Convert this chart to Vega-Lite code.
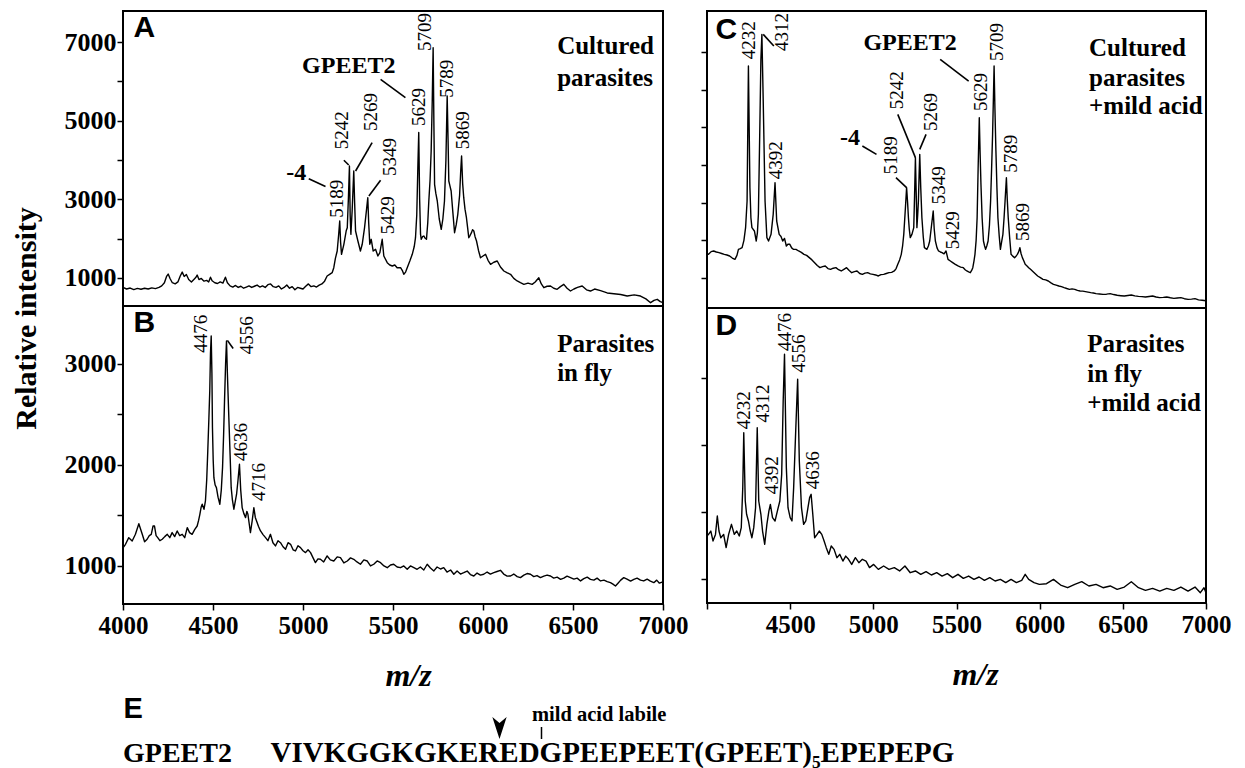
{
  "$schema": "https://vega.github.io/schema/vega-lite/v6.json",
  "padding": {"left": 10, "top": 10, "right": 0, "bottom": 0},
  "background": "white",
  "config": {
    "view": {"stroke": "black", "strokeWidth": 2},
    "axis": {"labelFont": "Liberation Serif", "labelFontWeight": "bold", "labelColor": "black", "tickColor": "black", "domain": false, "grid": false, "tickWidth": 1.5, "tickSize": 6, "titleFont": "Liberation Serif", "titleColor": "black", "labelFlush": false, "labelOverlap": false}
  },
  "datasets": {
    "A": [
      {"x":4000,"y":760},{"x":4020,"y":720},{"x":4040,"y":745},{"x":4060,"y":705},{"x":4080,"y":735},{"x":4100,"y":715},{"x":4120,"y":740},{"x":4140,"y":720},{"x":4160,"y":750},{"x":4180,"y":730},{"x":4200,"y":760},{"x":4215,"y":800},{"x":4230,"y":880},{"x":4242,"y":1040},{"x":4251,"y":1100},{"x":4262,"y":980},{"x":4274,"y":880},{"x":4290,"y":850},{"x":4305,"y":900},{"x":4318,"y":1050},{"x":4329,"y":1150},{"x":4340,"y":1040},{"x":4352,"y":1090},{"x":4365,"y":960},{"x":4380,"y":900},{"x":4395,"y":970},{"x":4404,"y":1010},{"x":4412,"y":1075},{"x":4422,"y":960},{"x":4435,"y":990},{"x":4450,"y":920},{"x":4465,"y":940},{"x":4476,"y":900},{"x":4486,"y":1020},{"x":4495,"y":930},{"x":4510,"y":880},{"x":4525,"y":860},{"x":4540,"y":900},{"x":4555,"y":870},{"x":4569,"y":1020},{"x":4580,"y":880},{"x":4595,"y":800},{"x":4610,"y":770},{"x":4625,"y":810},{"x":4640,"y":760},{"x":4655,"y":790},{"x":4670,"y":740},{"x":4685,"y":770},{"x":4700,"y":800},{"x":4715,"y":760},{"x":4730,"y":790},{"x":4745,"y":820},{"x":4760,"y":770},{"x":4775,"y":800},{"x":4790,"y":760},{"x":4805,"y":830},{"x":4820,"y":850},{"x":4835,"y":780},{"x":4850,"y":760},{"x":4865,"y":800},{"x":4880,"y":720},{"x":4895,"y":760},{"x":4910,"y":820},{"x":4925,"y":740},{"x":4940,"y":780},{"x":4955,"y":700},{"x":4970,"y":760},{"x":4985,"y":740},{"x":5000,"y":720},{"x":5015,"y":790},{"x":5030,"y":850},{"x":5045,"y":780},{"x":5060,"y":800},{"x":5075,"y":770},{"x":5090,"y":820},{"x":5105,"y":850},{"x":5120,"y":920},{"x":5134,"y":1050},{"x":5150,"y":1100},{"x":5162,"y":1135},{"x":5171,"y":1262},{"x":5180,"y":1500},{"x":5190,"y":1686},{"x":5198,"y":2100},{"x":5204,"y":2449},{"x":5209,"y":1900},{"x":5214,"y":1602},{"x":5227,"y":1857},{"x":5240,"y":2200},{"x":5246,"y":2280},{"x":5252,"y":3000},{"x":5258,"y":3848},{"x":5262,"y":2600},{"x":5266,"y":2110},{"x":5273,"y":2704},{"x":5282,"y":3720},{"x":5287,"y":2900},{"x":5292,"y":2195},{"x":5305,"y":1941},{"x":5319,"y":1686},{"x":5329,"y":1857},{"x":5342,"y":2280},{"x":5352,"y":2700},{"x":5360,"y":3042},{"x":5365,"y":2400},{"x":5371,"y":1857},{"x":5379,"y":1984},{"x":5390,"y":1686},{"x":5403,"y":1729},{"x":5416,"y":1559},{"x":5427,"y":1644},{"x":5440,"y":1984},{"x":5449,"y":1559},{"x":5468,"y":1390},{"x":5482,"y":1330},{"x":5496,"y":1305},{"x":5510,"y":1330},{"x":5523,"y":1262},{"x":5542,"y":1262},{"x":5553,"y":1180},{"x":5560,"y":1094},{"x":5570,"y":1150},{"x":5579,"y":1262},{"x":5595,"y":1450},{"x":5607,"y":1602},{"x":5618,"y":1800},{"x":5625,"y":2025},{"x":5632,"y":2600},{"x":5638,"y":3800},{"x":5643,"y":4700},{"x":5648,"y":3000},{"x":5653,"y":2110},{"x":5657,"y":1984},{"x":5664,"y":2050},{"x":5671,"y":2068},{"x":5679,"y":2010},{"x":5686,"y":1984},{"x":5693,"y":2400},{"x":5699,"y":2958},{"x":5706,"y":3500},{"x":5712,"y":4229},{"x":5718,"y":5500},{"x":5723,"y":6856},{"x":5727,"y":5000},{"x":5731,"y":3382},{"x":5738,"y":3150},{"x":5746,"y":2958},{"x":5757,"y":2500},{"x":5768,"y":2238},{"x":5777,"y":2500},{"x":5786,"y":2958},{"x":5794,"y":4000},{"x":5801,"y":5627},{"x":5806,"y":4500},{"x":5810,"y":3466},{"x":5816,"y":3350},{"x":5823,"y":3212},{"x":5832,"y":2700},{"x":5842,"y":2152},{"x":5851,"y":2350},{"x":5860,"y":2620},{"x":5870,"y":3100},{"x":5876,"y":3700},{"x":5881,"y":4102},{"x":5887,"y":3400},{"x":5893,"y":3042},{"x":5900,"y":2750},{"x":5908,"y":2533},{"x":5914,"y":2300},{"x":5921,"y":2025},{"x":5928,"y":2080},{"x":5936,"y":2152},{"x":5942,"y":2230},{"x":5949,"y":2195},{"x":5956,"y":2050},{"x":5964,"y":1941},{"x":5975,"y":1700},{"x":5986,"y":1516},{"x":6000,"y":1560},{"x":6014,"y":1602},{"x":6028,"y":1450},{"x":6042,"y":1348},{"x":6060,"y":1400},{"x":6079,"y":1432},{"x":6097,"y":1280},{"x":6116,"y":1178},{"x":6135,"y":1130},{"x":6153,"y":1094},{"x":6171,"y":990},{"x":6190,"y":924},{"x":6208,"y":880},{"x":6227,"y":839},{"x":6250,"y":870},{"x":6273,"y":839},{"x":6290,"y":900},{"x":6310,"y":1008},{"x":6324,"y":850},{"x":6338,"y":753},{"x":6356,"y":790},{"x":6375,"y":797},{"x":6393,"y":740},{"x":6412,"y":712},{"x":6430,"y":780},{"x":6449,"y":839},{"x":6467,"y":740},{"x":6486,"y":669},{"x":6505,"y":720},{"x":6525,"y":760},{"x":6551,"y":797},{"x":6575,"y":700},{"x":6597,"y":669},{"x":6620,"y":720},{"x":6653,"y":680},{"x":6690,"y":620},{"x":6727,"y":601},{"x":6765,"y":580},{"x":6801,"y":542},{"x":6840,"y":570},{"x":6875,"y":542},{"x":6905,"y":470},{"x":6931,"y":372},{"x":6950,"y":430},{"x":6968,"y":458},{"x":6985,"y":400},{"x":7000,"y":372}
    ],
    "B": [
      {"x":4000,"y":1180},{"x":4014,"y":1214},{"x":4032,"y":1280},{"x":4051,"y":1247},{"x":4069,"y":1313},{"x":4088,"y":1418},{"x":4107,"y":1313},{"x":4120,"y":1240},{"x":4134,"y":1264},{"x":4146,"y":1300},{"x":4157,"y":1313},{"x":4167,"y":1395},{"x":4175,"y":1395},{"x":4184,"y":1300},{"x":4193,"y":1280},{"x":4205,"y":1250},{"x":4218,"y":1264},{"x":4232,"y":1290},{"x":4246,"y":1313},{"x":4260,"y":1280},{"x":4273,"y":1330},{"x":4287,"y":1290},{"x":4301,"y":1346},{"x":4315,"y":1300},{"x":4329,"y":1313},{"x":4343,"y":1280},{"x":4357,"y":1379},{"x":4370,"y":1330},{"x":4384,"y":1313},{"x":4398,"y":1360},{"x":4412,"y":1395},{"x":4420,"y":1450},{"x":4427,"y":1511},{"x":4434,"y":1580},{"x":4440,"y":1610},{"x":4450,"y":1560},{"x":4458,"y":1643},{"x":4465,"y":1850},{"x":4471,"y":2137},{"x":4477,"y":2450},{"x":4482,"y":2730},{"x":4486,"y":3100},{"x":4490,"y":3274},{"x":4494,"y":2900},{"x":4497,"y":2367},{"x":4501,"y":2050},{"x":4505,"y":1873},{"x":4512,"y":1800},{"x":4519,"y":1774},{"x":4528,"y":1680},{"x":4538,"y":1610},{"x":4546,"y":1750},{"x":4553,"y":1972},{"x":4559,"y":2300},{"x":4564,"y":2631},{"x":4570,"y":3000},{"x":4575,"y":3224},{"x":4580,"y":2900},{"x":4588,"y":2466},{"x":4595,"y":2100},{"x":4601,"y":1774},{"x":4608,"y":1650},{"x":4616,"y":1561},{"x":4624,"y":1640},{"x":4631,"y":1709},{"x":4639,"y":1850},{"x":4647,"y":2005},{"x":4654,"y":1750},{"x":4662,"y":1577},{"x":4671,"y":1520},{"x":4681,"y":1478},{"x":4688,"y":1540},{"x":4694,"y":1511},{"x":4701,"y":1420},{"x":4708,"y":1330},{"x":4718,"y":1450},{"x":4727,"y":1577},{"x":4735,"y":1480},{"x":4742,"y":1445},{"x":4753,"y":1390},{"x":4764,"y":1346},{"x":4778,"y":1310},{"x":4792,"y":1280},{"x":4805,"y":1250},{"x":4819,"y":1313},{"x":4833,"y":1230},{"x":4847,"y":1198},{"x":4861,"y":1250},{"x":4875,"y":1230},{"x":4889,"y":1190},{"x":4903,"y":1165},{"x":4917,"y":1230},{"x":4931,"y":1214},{"x":4945,"y":1160},{"x":4958,"y":1148},{"x":4972,"y":1200},{"x":4986,"y":1181},{"x":5000,"y":1150},{"x":5014,"y":1132},{"x":5028,"y":1160},{"x":5042,"y":1132},{"x":5056,"y":1080},{"x":5069,"y":1033},{"x":5083,"y":1070},{"x":5097,"y":1066},{"x":5115,"y":1040},{"x":5134,"y":1099},{"x":5152,"y":1060},{"x":5171,"y":1049},{"x":5190,"y":1090},{"x":5208,"y":1082},{"x":5227,"y":1030},{"x":5246,"y":1049},{"x":5264,"y":1080},{"x":5282,"y":1066},{"x":5300,"y":1040},{"x":5319,"y":1017},{"x":5338,"y":1060},{"x":5357,"y":1049},{"x":5375,"y":1000},{"x":5393,"y":1017},{"x":5412,"y":1050},{"x":5431,"y":1033},{"x":5450,"y":1000},{"x":5468,"y":983},{"x":5486,"y":1010},{"x":5504,"y":1017},{"x":5523,"y":990},{"x":5542,"y":983},{"x":5560,"y":1000},{"x":5579,"y":967},{"x":5597,"y":1000},{"x":5616,"y":983},{"x":5634,"y":967},{"x":5652,"y":990},{"x":5671,"y":960},{"x":5690,"y":1017},{"x":5708,"y":980},{"x":5727,"y":951},{"x":5745,"y":990},{"x":5764,"y":970},{"x":5782,"y":983},{"x":5800,"y":940},{"x":5820,"y":960},{"x":5838,"y":918},{"x":5856,"y":950},{"x":5875,"y":920},{"x":5893,"y":934},{"x":5912,"y":950},{"x":5930,"y":915},{"x":5949,"y":901},{"x":5967,"y":930},{"x":5986,"y":910},{"x":6004,"y":918},{"x":6023,"y":940},{"x":6041,"y":920},{"x":6060,"y":934},{"x":6078,"y":945},{"x":6097,"y":957},{"x":6115,"y":920},{"x":6134,"y":900},{"x":6153,"y":901},{"x":6171,"y":920},{"x":6190,"y":895},{"x":6208,"y":885},{"x":6227,"y":910},{"x":6245,"y":925},{"x":6264,"y":918},{"x":6282,"y":895},{"x":6300,"y":905},{"x":6319,"y":885},{"x":6338,"y":900},{"x":6356,"y":910},{"x":6375,"y":901},{"x":6393,"y":880},{"x":6412,"y":890},{"x":6431,"y":868},{"x":6449,"y":880},{"x":6467,"y":900},{"x":6486,"y":885},{"x":6505,"y":870},{"x":6523,"y":880},{"x":6542,"y":852},{"x":6560,"y":875},{"x":6579,"y":890},{"x":6597,"y":868},{"x":6616,"y":860},{"x":6634,"y":880},{"x":6653,"y":852},{"x":6672,"y":860},{"x":6690,"y":845},{"x":6708,"y":835},{"x":6722,"y":820},{"x":6736,"y":802},{"x":6750,"y":830},{"x":6765,"y":860},{"x":6782,"y":885},{"x":6800,"y":870},{"x":6820,"y":850},{"x":6838,"y":868},{"x":6856,"y":880},{"x":6875,"y":860},{"x":6893,"y":852},{"x":6912,"y":870},{"x":6930,"y":850},{"x":6949,"y":835},{"x":6965,"y":860},{"x":6980,"y":830},{"x":6995,"y":841},{"x":7000,"y":835}
    ],
    "C": [
      {"x":4000,"y":1640},{"x":4009,"y":1628},{"x":4025,"y":1700},{"x":4040,"y":1717},{"x":4056,"y":1690},{"x":4072,"y":1672},{"x":4088,"y":1650},{"x":4104,"y":1628},{"x":4120,"y":1610},{"x":4136,"y":1584},{"x":4152,"y":1530},{"x":4168,"y":1495},{"x":4180,"y":1600},{"x":4189,"y":1761},{"x":4200,"y":1780},{"x":4211,"y":1805},{"x":4222,"y":2000},{"x":4232,"y":2336},{"x":4241,"y":3044},{"x":4249,"y":6628},{"x":4258,"y":3398},{"x":4264,"y":2600},{"x":4270,"y":2336},{"x":4285,"y":2248},{"x":4296,"y":1982},{"x":4303,"y":2200},{"x":4309,"y":2690},{"x":4317,"y":4814},{"x":4324,"y":6800},{"x":4330,"y":7469},{"x":4338,"y":5699},{"x":4349,"y":3044},{"x":4360,"y":2071},{"x":4370,"y":1982},{"x":4385,"y":2159},{"x":4398,"y":2690},{"x":4409,"y":3531},{"x":4419,"y":2513},{"x":4434,"y":2159},{"x":4445,"y":2100},{"x":4455,"y":1982},{"x":4466,"y":2050},{"x":4477,"y":1849},{"x":4488,"y":1900},{"x":4498,"y":1894},{"x":4509,"y":1800},{"x":4519,"y":1761},{"x":4535,"y":1760},{"x":4551,"y":1717},{"x":4567,"y":1680},{"x":4583,"y":1628},{"x":4599,"y":1600},{"x":4615,"y":1540},{"x":4631,"y":1480},{"x":4647,"y":1407},{"x":4663,"y":1330},{"x":4679,"y":1274},{"x":4695,"y":1300},{"x":4711,"y":1319},{"x":4727,"y":1250},{"x":4743,"y":1230},{"x":4759,"y":1260},{"x":4775,"y":1274},{"x":4791,"y":1220},{"x":4807,"y":1186},{"x":4823,"y":1230},{"x":4839,"y":1274},{"x":4855,"y":1200},{"x":4870,"y":1141},{"x":4886,"y":1170},{"x":4902,"y":1186},{"x":4918,"y":1120},{"x":4934,"y":1097},{"x":4950,"y":1130},{"x":4966,"y":1141},{"x":4982,"y":1110},{"x":4998,"y":1097},{"x":5014,"y":1080},{"x":5030,"y":1053},{"x":5046,"y":1090},{"x":5062,"y":1097},{"x":5078,"y":1120},{"x":5094,"y":1141},{"x":5110,"y":1150},{"x":5126,"y":1186},{"x":5137,"y":1250},{"x":5147,"y":1363},{"x":5158,"y":1480},{"x":5168,"y":1628},{"x":5176,"y":1850},{"x":5183,"y":2159},{"x":5192,"y":2800},{"x":5200,"y":3398},{"x":5206,"y":3000},{"x":5211,"y":2601},{"x":5216,"y":2300},{"x":5222,"y":2071},{"x":5232,"y":2159},{"x":5243,"y":2336},{"x":5248,"y":3200},{"x":5253,"y":4194},{"x":5258,"y":3200},{"x":5262,"y":2336},{"x":5267,"y":2700},{"x":5271,"y":3044},{"x":5275,"y":3700},{"x":5279,"y":4283},{"x":5285,"y":3400},{"x":5292,"y":2601},{"x":5300,"y":2100},{"x":5307,"y":1805},{"x":5322,"y":1761},{"x":5331,"y":1850},{"x":5339,"y":1982},{"x":5350,"y":2400},{"x":5360,"y":2779},{"x":5366,"y":2300},{"x":5373,"y":1982},{"x":5383,"y":1800},{"x":5392,"y":1717},{"x":5403,"y":1690},{"x":5413,"y":1672},{"x":5425,"y":1640},{"x":5437,"y":1717},{"x":5449,"y":1495},{"x":5463,"y":1450},{"x":5477,"y":1407},{"x":5493,"y":1360},{"x":5509,"y":1319},{"x":5525,"y":1290},{"x":5541,"y":1274},{"x":5552,"y":1220},{"x":5562,"y":1186},{"x":5573,"y":1160},{"x":5583,"y":1141},{"x":5591,"y":1200},{"x":5598,"y":1274},{"x":5605,"y":1450},{"x":5611,"y":1628},{"x":5618,"y":2000},{"x":5624,"y":2601},{"x":5630,"y":3900},{"x":5637,"y":5256},{"x":5642,"y":4300},{"x":5647,"y":3487},{"x":5654,"y":2600},{"x":5662,"y":1982},{"x":5669,"y":1850},{"x":5675,"y":1761},{"x":5682,"y":1850},{"x":5690,"y":1982},{"x":5698,"y":2400},{"x":5705,"y":3044},{"x":5711,"y":3900},{"x":5717,"y":4814},{"x":5722,"y":5800},{"x":5726,"y":6628},{"x":5731,"y":5500},{"x":5737,"y":4372},{"x":5743,"y":3400},{"x":5749,"y":2601},{"x":5757,"y":2100},{"x":5764,"y":1761},{"x":5771,"y":1950},{"x":5779,"y":2159},{"x":5786,"y":2600},{"x":5792,"y":3044},{"x":5800,"y":3663},{"x":5805,"y":3100},{"x":5811,"y":2601},{"x":5819,"y":2100},{"x":5828,"y":1628},{"x":5838,"y":1580},{"x":5849,"y":1540},{"x":5858,"y":1580},{"x":5866,"y":1628},{"x":5874,"y":1700},{"x":5881,"y":1805},{"x":5888,"y":1650},{"x":5896,"y":1540},{"x":5905,"y":1450},{"x":5913,"y":1363},{"x":5924,"y":1320},{"x":5934,"y":1274},{"x":5945,"y":1230},{"x":5956,"y":1186},{"x":5972,"y":1120},{"x":5988,"y":1053},{"x":6004,"y":1010},{"x":6020,"y":964},{"x":6036,"y":950},{"x":6052,"y":920},{"x":6068,"y":870},{"x":6083,"y":831},{"x":6099,"y":810},{"x":6115,"y":787},{"x":6131,"y":770},{"x":6147,"y":743},{"x":6163,"y":720},{"x":6179,"y":699},{"x":6195,"y":710},{"x":6211,"y":699},{"x":6227,"y":670},{"x":6243,"y":654},{"x":6259,"y":650},{"x":6275,"y":637},{"x":6291,"y":625},{"x":6307,"y":610},{"x":6323,"y":600},{"x":6339,"y":584},{"x":6360,"y":575},{"x":6381,"y":566},{"x":6402,"y":570},{"x":6424,"y":584},{"x":6445,"y":560},{"x":6466,"y":540},{"x":6488,"y":530},{"x":6509,"y":522},{"x":6530,"y":535},{"x":6551,"y":549},{"x":6572,"y":525},{"x":6594,"y":513},{"x":6615,"y":505},{"x":6636,"y":495},{"x":6658,"y":510},{"x":6679,"y":522},{"x":6700,"y":495},{"x":6721,"y":478},{"x":6743,"y":485},{"x":6764,"y":495},{"x":6786,"y":475},{"x":6807,"y":460},{"x":6828,"y":470},{"x":6849,"y":478},{"x":6870,"y":450},{"x":6892,"y":433},{"x":6913,"y":440},{"x":6934,"y":451},{"x":6955,"y":420},{"x":6977,"y":407},{"x":7000,"y":395}
    ],
    "D": [
      {"x":4000,"y":1320},{"x":4009,"y":1333},{"x":4023,"y":1358},{"x":4036,"y":1284},{"x":4051,"y":1333},{"x":4062,"y":1470},{"x":4072,"y":1358},{"x":4083,"y":1308},{"x":4100,"y":1333},{"x":4115,"y":1234},{"x":4130,"y":1333},{"x":4147,"y":1408},{"x":4164,"y":1333},{"x":4179,"y":1358},{"x":4194,"y":1321},{"x":4206,"y":1383},{"x":4215,"y":1682},{"x":4221,"y":2092},{"x":4230,"y":1582},{"x":4238,"y":1483},{"x":4249,"y":1433},{"x":4260,"y":1358},{"x":4270,"y":1308},{"x":4281,"y":1383},{"x":4292,"y":1532},{"x":4302,"y":2129},{"x":4311,"y":1582},{"x":4324,"y":1483},{"x":4334,"y":1358},{"x":4347,"y":1259},{"x":4360,"y":1408},{"x":4372,"y":1507},{"x":4381,"y":1557},{"x":4394,"y":1458},{"x":4409,"y":1433},{"x":4423,"y":1507},{"x":4438,"y":1582},{"x":4449,"y":1781},{"x":4458,"y":2328},{"x":4466,"y":2677},{"x":4477,"y":1831},{"x":4487,"y":1532},{"x":4500,"y":1458},{"x":4511,"y":1433},{"x":4521,"y":1682},{"x":4534,"y":2129},{"x":4545,"y":2490},{"x":4555,"y":1881},{"x":4568,"y":1532},{"x":4581,"y":1408},{"x":4594,"y":1433},{"x":4607,"y":1532},{"x":4617,"y":1607},{"x":4626,"y":1632},{"x":4636,"y":1483},{"x":4647,"y":1308},{"x":4662,"y":1333},{"x":4675,"y":1358},{"x":4690,"y":1333},{"x":4704,"y":1284},{"x":4717,"y":1234},{"x":4732,"y":1184},{"x":4747,"y":1246},{"x":4764,"y":1221},{"x":4781,"y":1159},{"x":4798,"y":1184},{"x":4817,"y":1134},{"x":4834,"y":1171},{"x":4851,"y":1147},{"x":4870,"y":1109},{"x":4892,"y":1159},{"x":4913,"y":1122},{"x":4934,"y":1147},{"x":4956,"y":1134},{"x":4977,"y":1085},{"x":5002,"y":1109},{"x":5030,"y":1072},{"x":5062,"y":1097},{"x":5094,"y":1072},{"x":5126,"y":1085},{"x":5158,"y":1060},{"x":5190,"y":1097},{"x":5222,"y":1047},{"x":5253,"y":1060},{"x":5285,"y":1035},{"x":5317,"y":1055},{"x":5349,"y":1030},{"x":5381,"y":1047},{"x":5413,"y":1022},{"x":5445,"y":1040},{"x":5477,"y":1010},{"x":5509,"y":1035},{"x":5541,"y":1005},{"x":5573,"y":1022},{"x":5605,"y":997},{"x":5636,"y":1015},{"x":5668,"y":990},{"x":5700,"y":1010},{"x":5732,"y":985},{"x":5764,"y":997},{"x":5796,"y":973},{"x":5828,"y":997},{"x":5860,"y":973},{"x":5892,"y":990},{"x":5913,"y":1035},{"x":5934,"y":997},{"x":5966,"y":973},{"x":5998,"y":960},{"x":6041,"y":965},{"x":6083,"y":997},{"x":6126,"y":955},{"x":6168,"y":935},{"x":6211,"y":960},{"x":6253,"y":980},{"x":6296,"y":948},{"x":6339,"y":960},{"x":6381,"y":935},{"x":6424,"y":948},{"x":6466,"y":923},{"x":6509,"y":940},{"x":6551,"y":980},{"x":6594,"y":935},{"x":6636,"y":915},{"x":6679,"y":930},{"x":6722,"y":910},{"x":6764,"y":930},{"x":6807,"y":915},{"x":6849,"y":940},{"x":6892,"y":910},{"x":6934,"y":940},{"x":6966,"y":898},{"x":6988,"y":935},{"x":7000,"y":898}
    ],
    "peaks": [
      {"p":"A","x":5190,"y":2533,"t":"5189"},{"p":"A","x":5218,"y":4272,"t":"5242"},{"p":"A","x":5379,"y":4738,"t":"5269"},{"p":"A","x":5481,"y":3594,"t":"5349"},{"p":"A","x":5471,"y":2111,"t":"5429"},{"p":"A","x":5643,"y":4865,"t":"5629"},{"p":"A","x":5675,"y":6772,"t":"5709"},{"p":"A","x":5801,"y":5584,"t":"5789"},{"p":"A","x":5888,"y":4272,"t":"5869"},
      {"p":"B","x":4431,"y":3109,"t":"4476"},{"p":"B","x":4690,"y":3093,"t":"4556"},{"p":"B","x":4657,"y":2038,"t":"4636"},{"p":"B","x":4754,"y":1643,"t":"4716"},
      {"p":"C","x":4253,"y":6805,"t":"4232"},{"p":"C","x":4449,"y":7027,"t":"4312"},{"p":"C","x":4413,"y":3619,"t":"4392"},{"p":"C","x":5105,"y":3752,"t":"5189"},{"p":"C","x":5143,"y":5478,"t":"5242"},{"p":"C","x":5349,"y":4903,"t":"5269"},{"p":"C","x":5392,"y":2956,"t":"5349"},{"p":"C","x":5477,"y":1761,"t":"5429"},{"p":"C","x":5647,"y":5434,"t":"5629"},{"p":"C","x":5743,"y":6761,"t":"5709"},{"p":"C","x":5828,"y":3796,"t":"5789"},{"p":"C","x":5902,"y":1982,"t":"5869"},
      {"p":"D","x":4221,"y":2117,"t":"4232"},{"p":"D","x":4338,"y":2167,"t":"4312"},{"p":"D","x":4392,"y":1632,"t":"4392"},{"p":"D","x":4466,"y":2701,"t":"4476"},{"p":"D","x":4555,"y":2540,"t":"4556"},{"p":"D","x":4636,"y":1669,"t":"4636"}
    ],
    "notes": [
      {"p":"A","x":4962,"y":3677,"t":"-4"},{"p":"A","x":5254,"y":6390,"t":"GPEET2"},
      {"p":"C","x":4860,"y":4726,"t":"-4"},{"p":"C","x":5221,"y":7248,"t":"GPEET2"}
    ],
    "conds": [
      {"p":"A","x":6412,"y":6899,"t":"Cultured"},{"p":"A","x":6412,"y":6093,"t":"parasites"},
      {"p":"B","x":6412,"y":3198,"t":"Parasites"},{"p":"B","x":6412,"y":2911,"t":"in fly"},
      {"p":"C","x":6297,"y":7115,"t":"Cultured"},{"p":"C","x":6297,"y":6310,"t":"parasites"},{"p":"C","x":6297,"y":5566,"t":"+mild acid"},
      {"p":"D","x":6286,"y":2751,"t":"Parasites"},{"p":"D","x":6286,"y":2527,"t":"in fly"},{"p":"D","x":6286,"y":2316,"t":"+mild acid"}
    ],
    "letters": [
      {"p":"A","x":4058,"y":7369,"t":"A"},{"p":"B","x":4058,"y":3397,"t":"B"},{"p":"C","x":4051,"y":7583,"t":"C"},{"p":"D","x":4051,"y":2884,"t":"D"}
    ],
    "leaders": [
      {"p":"A","x":5032,"y":3525,"x2":5125,"y2":3329},{"p":"A","x":5227,"y":3993,"x2":5254,"y2":3873},{"p":"A","x":5384,"y":4440,"x2":5292,"y2":3720},{"p":"A","x":5431,"y":3484,"x2":5366,"y2":3085},{"p":"A","x":5431,"y":6052,"x2":5569,"y2":5584},
      {"p":"B","x":4580,"y":3230,"x2":4612,"y2":3150},
      {"p":"C","x":4338,"y":7469,"x2":4402,"y2":7159},{"p":"C","x":4934,"y":4504,"x2":5019,"y2":4283},{"p":"C","x":5136,"y":3664,"x2":5200,"y2":3398},{"p":"C","x":5147,"y":5345,"x2":5253,"y2":4195},{"p":"C","x":5317,"y":4814,"x2":5279,"y2":4416},{"p":"C","x":5402,"y":6805,"x2":5573,"y2":6230}
    ]
  },
  "vconcat": [
    {
      "hconcat": [
        {
          "vconcat": [
            {
              "width": 540, "height": 295,
              "encoding": {
                "x": {"field": "x", "type": "quantitative", "scale": {"domain": [4000, 7000], "nice": false, "zero": false}, "axis": null},
                "y": {"field": "y", "type": "quantitative", "scale": {"domain": [288, 7789], "nice": false, "zero": false},
                      "axis": {"values": [1000,2000,3000,4000,5000,6000,7000], "format": "d", "labelExpr": "datum.value % 2000 == 1000 ? datum.label : ''", "labelFontSize": 26, "labelPadding": 1, "title": "Relative intensity", "titleFontSize": 30, "titleFontWeight": "bold", "titleX": -97, "titleY": 307, "titleAngle": 270, "titleAlign": "center", "titleBaseline": "middle"}}
              },
              "layer": [
                {"data": {"name": "A"}, "mark": {"type": "line", "color": "black", "strokeWidth": 1.4, "strokeJoin": "round"}, "encoding": {}},
                {"data": {"name": "leaders"}, "transform": [{"filter": "datum.p == 'A'"}], "mark": {"type": "rule", "color": "black", "strokeWidth": 1.6}, "encoding": {"x2": {"field": "x2"}, "y2": {"field": "y2"}}},
                {"data": {"name": "peaks"}, "transform": [{"filter": "datum.p == 'A'"}], "mark": {"type": "text", "angle": 270, "align": "left", "baseline": "middle", "font": "Liberation Serif", "fontSize": 19, "color": "black"}, "encoding": {"text": {"field": "t"}}},
                {"data": {"name": "notes"}, "transform": [{"filter": "datum.p == 'A'"}], "mark": {"type": "text", "align": "center", "baseline": "middle", "font": "Liberation Serif", "fontWeight": "bold", "fontSize": 24, "color": "black"}, "encoding": {"text": {"field": "t"}}},
                {"data": {"name": "conds"}, "transform": [{"filter": "datum.p == 'A'"}], "mark": {"type": "text", "align": "left", "baseline": "middle", "font": "Liberation Serif", "fontWeight": "bold", "fontSize": 25, "color": "black"}, "encoding": {"text": {"field": "t"}}},
                {"data": {"name": "letters"}, "transform": [{"filter": "datum.p == 'A'"}], "mark": {"type": "text", "align": "left", "baseline": "middle", "font": "Liberation Sans", "fontWeight": "bold", "fontSize": 30, "color": "black"}, "encoding": {"text": {"field": "t"}}}
              ]
            },
            {
              "width": 540, "height": 298,
              "encoding": {
                "x": {"field": "x", "type": "quantitative", "scale": {"domain": [4000, 7000], "nice": false, "zero": false},
                      "axis": {"values": [4000,4500,5000,5500,6000,6500,7000], "format": "d", "labelFontSize": 25, "labelPadding": 3, "title": "m/z", "titleFontSize": 32, "titleFontStyle": "italic", "titleFontWeight": "bold", "titleX": 285, "titleY": 71, "titleAlign": "center", "titleBaseline": "middle"}},
                "y": {"field": "y", "type": "quantitative", "scale": {"domain": [624, 3570], "nice": false, "zero": false},
                      "axis": {"values": [1000,1500,2000,2500,3000], "format": "d", "labelExpr": "datum.value % 1000 == 0 ? datum.label : ''", "labelFontSize": 26, "labelPadding": 1, "title": null}}
              },
              "layer": [
                {"data": {"name": "B"}, "mark": {"type": "line", "color": "black", "strokeWidth": 1.4, "strokeJoin": "round"}, "encoding": {}},
                {"data": {"name": "leaders"}, "transform": [{"filter": "datum.p == 'B'"}], "mark": {"type": "rule", "color": "black", "strokeWidth": 1.6}, "encoding": {"x2": {"field": "x2"}, "y2": {"field": "y2"}}},
                {"data": {"name": "peaks"}, "transform": [{"filter": "datum.p == 'B'"}], "mark": {"type": "text", "angle": 270, "align": "left", "baseline": "middle", "font": "Liberation Serif", "fontSize": 19, "color": "black"}, "encoding": {"text": {"field": "t"}}},
                {"data": {"name": "conds"}, "transform": [{"filter": "datum.p == 'B'"}], "mark": {"type": "text", "align": "left", "baseline": "middle", "font": "Liberation Serif", "fontWeight": "bold", "fontSize": 25, "color": "black"}, "encoding": {"text": {"field": "t"}}},
                {"data": {"name": "letters"}, "transform": [{"filter": "datum.p == 'B'"}], "mark": {"type": "text", "align": "left", "baseline": "middle", "font": "Liberation Sans", "fontWeight": "bold", "fontSize": 30, "color": "black"}, "encoding": {"text": {"field": "t"}}}
              ]
            }
          ],
          "spacing": 0,
          "bounds": "flush"
        },
        {
          "vconcat": [
            {
              "width": 499, "height": 297,
              "encoding": {
                "x": {"field": "x", "type": "quantitative", "scale": {"domain": [4000, 7000], "nice": false, "zero": false}, "axis": null},
                "y": {"field": "y", "type": "quantitative", "scale": {"domain": [203, 8089], "nice": false, "zero": false},
                      "axis": {"values": [1000,2000,3000,4000,5000,6000,7000], "labels": false, "title": null}}
              },
              "layer": [
                {"data": {"name": "C"}, "mark": {"type": "line", "color": "black", "strokeWidth": 1.4, "strokeJoin": "round"}, "encoding": {}},
                {"data": {"name": "leaders"}, "transform": [{"filter": "datum.p == 'C'"}], "mark": {"type": "rule", "color": "black", "strokeWidth": 1.6}, "encoding": {"x2": {"field": "x2"}, "y2": {"field": "y2"}}},
                {"data": {"name": "peaks"}, "transform": [{"filter": "datum.p == 'C'"}], "mark": {"type": "text", "angle": 270, "align": "left", "baseline": "middle", "font": "Liberation Serif", "fontSize": 19, "color": "black"}, "encoding": {"text": {"field": "t"}}},
                {"data": {"name": "notes"}, "transform": [{"filter": "datum.p == 'C'"}], "mark": {"type": "text", "align": "center", "baseline": "middle", "font": "Liberation Serif", "fontWeight": "bold", "fontSize": 24, "color": "black"}, "encoding": {"text": {"field": "t"}}},
                {"data": {"name": "conds"}, "transform": [{"filter": "datum.p == 'C'"}], "mark": {"type": "text", "align": "left", "baseline": "middle", "font": "Liberation Serif", "fontWeight": "bold", "fontSize": 25, "color": "black"}, "encoding": {"text": {"field": "t"}}},
                {"data": {"name": "letters"}, "transform": [{"filter": "datum.p == 'C'"}], "mark": {"type": "text", "align": "left", "baseline": "middle", "font": "Liberation Sans", "fontWeight": "bold", "fontSize": 30, "color": "black"}, "encoding": {"text": {"field": "t"}}}
              ]
            },
            {
              "width": 499, "height": 295,
              "encoding": {
                "x": {"field": "x", "type": "quantitative", "scale": {"domain": [4000, 7000], "nice": false, "zero": false},
                      "axis": {"values": [4000,4500,5000,5500,6000,6500,7000], "format": "d", "labelExpr": "datum.value == 4000 ? '' : datum.label", "labelFontSize": 25, "labelPadding": 3, "title": "m/z", "titleFontSize": 32, "titleFontStyle": "italic", "titleFontWeight": "bold", "titleX": 268, "titleY": 71, "titleAlign": "center", "titleBaseline": "middle"}},
                "y": {"field": "y", "type": "quantitative", "scale": {"domain": [821, 3022], "nice": false, "zero": false},
                      "axis": {"values": [1000,1500,2000,2500], "labels": false, "title": null}}
              },
              "layer": [
                {"data": {"name": "D"}, "mark": {"type": "line", "color": "black", "strokeWidth": 1.4, "strokeJoin": "round"}, "encoding": {}},
                {"data": {"name": "peaks"}, "transform": [{"filter": "datum.p == 'D'"}], "mark": {"type": "text", "angle": 270, "align": "left", "baseline": "middle", "font": "Liberation Serif", "fontSize": 19, "color": "black"}, "encoding": {"text": {"field": "t"}}},
                {"data": {"name": "conds"}, "transform": [{"filter": "datum.p == 'D'"}], "mark": {"type": "text", "align": "left", "baseline": "middle", "font": "Liberation Serif", "fontWeight": "bold", "fontSize": 25, "color": "black"}, "encoding": {"text": {"field": "t"}}},
                {"data": {"name": "letters"}, "transform": [{"filter": "datum.p == 'D'"}], "mark": {"type": "text", "align": "left", "baseline": "middle", "font": "Liberation Sans", "fontWeight": "bold", "fontSize": 30, "color": "black"}, "encoding": {"text": {"field": "t"}}}
              ]
            }
          ],
          "spacing": 0,
          "bounds": "flush"
        }
      ],
      "spacing": 10,
      "bounds": "full"
    },
    {
      "width": 1000, "height": 78,
      "view": {"stroke": null},
      "encoding": {
        "x": {"field": "x", "type": "quantitative", "scale": {"domain": [0, 1000], "nice": false, "zero": false}, "axis": null},
        "y": {"field": "y", "type": "quantitative", "scale": {"domain": [0, 78], "nice": false, "zero": false, "reverse": true}, "axis": null}
      },
      "layer": [
        {"data": {"values": [{"x": 0.5, "y": 26, "t": "E"}]}, "mark": {"type": "text", "align": "left", "baseline": "alphabetic", "font": "Liberation Sans", "fontWeight": "bold", "fontSize": 29, "color": "black"}, "encoding": {"text": {"field": "t"}}},
        {"data": {"values": [{"x": 409, "y": 29, "t": "mild acid labile"}]}, "mark": {"type": "text", "align": "left", "baseline": "alphabetic", "font": "Liberation Serif", "fontWeight": "bold", "fontSize": 20.5, "color": "black"}, "encoding": {"text": {"field": "t"}}},
        {"data": {"values": [{"x": 0, "y": 70, "t": "GPEET2"}]}, "mark": {"type": "text", "align": "left", "baseline": "alphabetic", "font": "Liberation Serif", "fontWeight": "bold", "fontSize": 28, "color": "black"}, "encoding": {"text": {"field": "t"}}},
        {"data": {"values": [{"x": 147.5, "y": 70, "t": "VIVKGGKGKEREDGPEEPEET(GPEET)₅EPEPEPG"}]}, "mark": {"type": "text", "align": "left", "baseline": "alphabetic", "font": "Liberation Serif", "fontWeight": "bold", "fontSize": 29, "color": "black"}, "encoding": {"text": {"field": "t"}}},
        {"data": {"values": [{"x": 376.5, "y": 36}]}, "mark": {"type": "point", "shape": "M0,1L-0.65,-1L0,-0.45L0.65,-1Z", "filled": true, "color": "black", "opacity": 1, "size": 484}, "encoding": {}},
        {"data": {"values": [{"x": 418.5, "y": 35, "y2": 47}]}, "mark": {"type": "rule", "color": "black", "strokeWidth": 1.5}, "encoding": {"y2": {"field": "y2"}}}
      ]
    }
  ],
  "spacing": 0,
  "bounds": "full"
}
